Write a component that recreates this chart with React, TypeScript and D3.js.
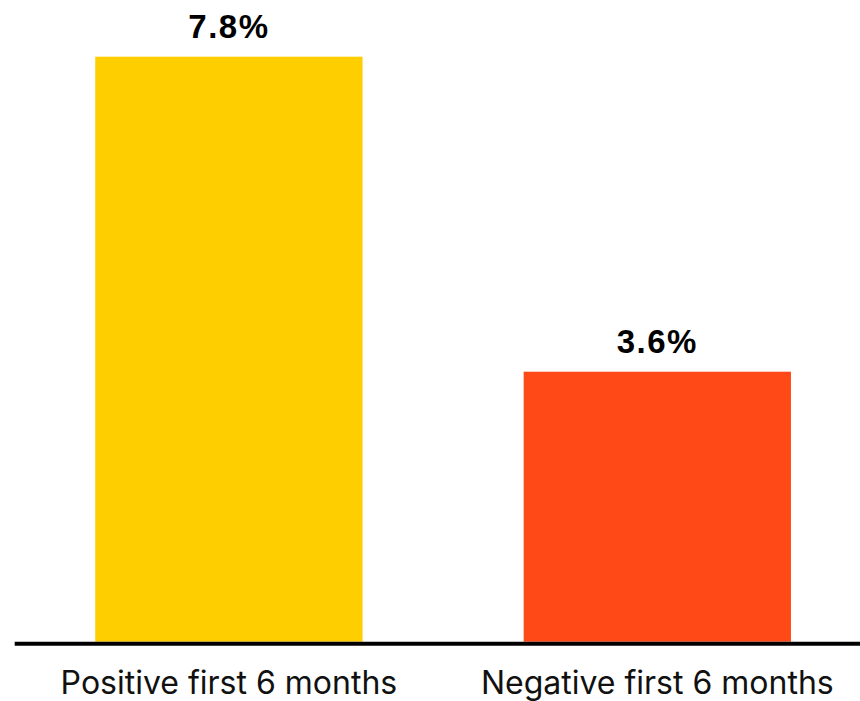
import * as d3 from 'd3';

const categories = ['Positive first 6 months', 'Negative first 6 months'];
const values = [7.8, 3.6];
const valueLabels = ['7.8%', '3.6%'];
const barColors = ['#FFCE00', '#FF4A17'];

const width = 860;
const height = 701;
const baseY = 641.7;

export default function App() {
  const x = d3
    .scaleBand<string>()
    .domain(categories)
    .range([14.7, 14.7 + 856.8])
    .paddingInner(0.376)
    .paddingOuter(0.188);

  const y = d3.scaleLinear().domain([0, 7.8]).range([baseY, 56.7]);

  return (
    <svg
      width={width}
      height={height}
      style={{ position: 'absolute', left: 0, top: 0, background: '#fff' }}
    >
      {categories.map((c, i) => (
        <g key={c}>
          <rect
            x={x(c)}
            y={y(values[i])}
            width={x.bandwidth()}
            height={baseY - y(values[i])}
            fill={barColors[i]}
          />
          <text
            x={(x(c) ?? 0) + x.bandwidth() / 2}
            y={y(values[i]) - 19}
            textAnchor="middle"
            fontFamily="'Liberation Sans', Arial, sans-serif"
            fontWeight="bold"
            fontSize={33}
            letterSpacing={1.5}
            fill="#000"
          >
            {valueLabels[i]}
          </text>
          <text
            x={(x(c) ?? 0) + x.bandwidth() / 2}
            y={694}
            textAnchor="middle"
            fontFamily="Inter, sans-serif"
            fontSize={32}
            fill="#111"
          >
            {c}
          </text>
        </g>
      ))}
      <line x1={14.7} x2={width} y1={baseY + 2} y2={baseY + 2} stroke="#000" strokeWidth={4} />
    </svg>
  );
}
